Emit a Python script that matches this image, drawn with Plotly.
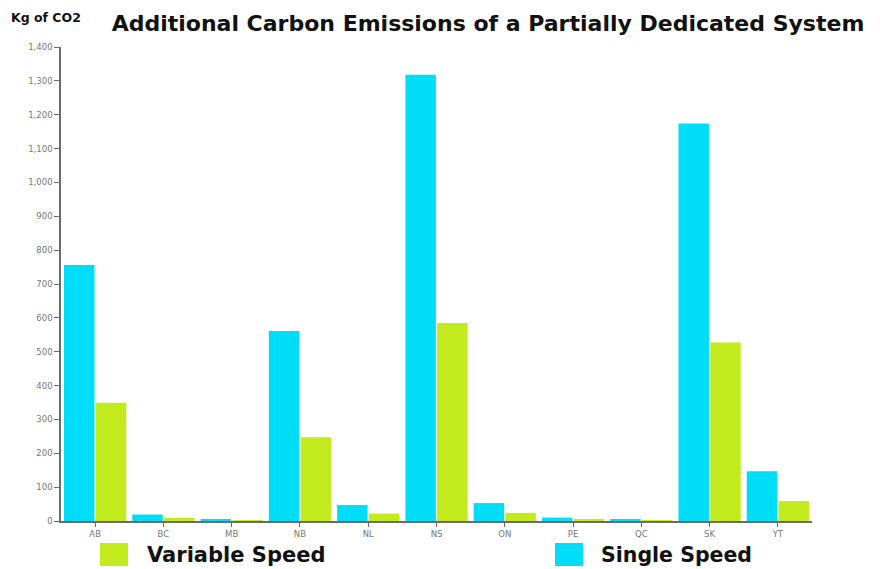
import plotly.graph_objects as go

provinces = ["AB", "BC", "MB", "NB", "NL", "NS", "ON", "PE", "QC", "SK", "YT"]
single_speed = [756, 19, 3, 561, 47, 1318, 53, 10, 3, 1174, 147]
variable_speed = [349, 9, 1, 247, 22, 585, 24, 4, 0.5, 527, 59]
y_ticks = [0, 100, 200, 300, 400, 500, 600, 700, 800, 900, 1000, 1100, 1200, 1300, 1400]

CYAN = "#00DDF8"
GREEN = "#C2EB1E"
AXIS = "#6a6a6a"

# figure is placed at an 8px body offset in the page
W, H = 872, 561
L, R, T, B = 53, 68, 39, 48
PW, PH = W - L - R, H - T - B


def px(xf):
    return (xf - L) / PW


def py(yf):
    return (H - B - yf) / PH


fig = go.Figure()
fig.add_trace(go.Bar(x=provinces, y=single_speed, name="Single Speed",
                     marker=dict(color=CYAN, line=dict(width=0)), showlegend=False))
fig.add_trace(go.Bar(x=provinces, y=variable_speed, name="Variable Speed",
                     marker=dict(color=GREEN, line=dict(width=0)), showlegend=False))

fig.update_layout(
    width=W, height=H, autosize=False,
    margin=dict(l=L, r=R, t=T, b=B),
    paper_bgcolor="white", plot_bgcolor="white",
    barmode="group", bargap=0.07, bargroupgap=0.04,
    font=dict(family="DejaVu Sans", color="#555555"),
    title=dict(text="<b>Additional Carbon Emissions of a Partially Dedicated System</b>",
               font=dict(family="DejaVu Sans", size=22, color="#111111"),
               x=480 / W, xanchor="center", y=1 - 15 / H, yanchor="middle"),
)

fig.update_yaxes(range=[0, 1400], tickvals=y_ticks, tickformat=",d",
                 showgrid=False, zeroline=False, showline=True, linecolor=AXIS, linewidth=1.5,
                 ticks="outside", ticklen=5, tickcolor=AXIS, tickwidth=1,
                 tickfont=dict(size=8.5, color="#777777"))
fig.update_xaxes(showgrid=False, showline=True, linecolor=AXIS, linewidth=1.5,
                 ticks="outside", ticklen=4, tickcolor=AXIS, tickwidth=1,
                 tickfont=dict(size=8.5, color="#777777"))

# y-axis unit label
fig.add_annotation(text="<b>Kg of CO2</b>", xref="paper", yref="paper",
                   x=px(1), y=py(10), xanchor="left", yanchor="middle", showarrow=False,
                   font=dict(family="DejaVu Sans", size=12.5, color="#111111"))

# custom legend
legend_items = [("Variable Speed", GREEN, 92, 137, 21), ("Single Speed", CYAN, 547, 591, 20.5)]
for name, color, sx, tx, fs in legend_items:
    fig.add_shape(type="rect", xref="paper", yref="paper",
                  x0=px(sx), x1=px(sx + 28), y0=py(558), y1=py(535),
                  fillcolor=color, line=dict(width=0))
    fig.add_annotation(text="<b>" + name + "</b>", xref="paper", yref="paper",
                       x=px(tx), y=py(547), xanchor="left", yanchor="middle", showarrow=False,
                       font=dict(family="DejaVu Sans", size=fs, color="#111111"))

fig.write_html("out.html")
